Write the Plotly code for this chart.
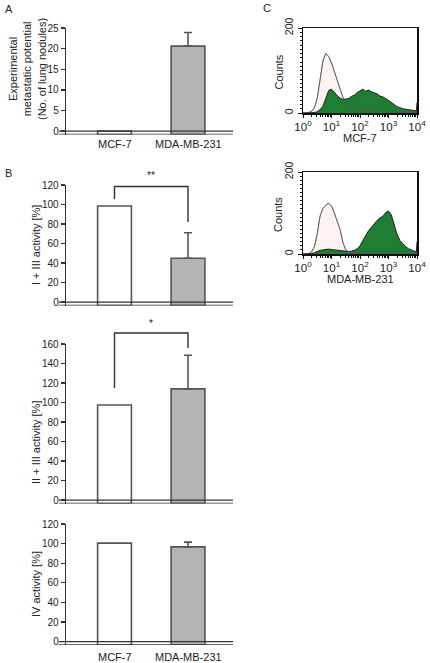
import plotly.graph_objects as go

W, H = 430, 663
FONT = "Arial, Liberation Sans, sans-serif"

# ---------------- data ----------------
cell_lines = ["MCF-7", "MDA-MB-231"]
lung_nodules = [0, 20.6]
lung_nodules_err = [0, 3.3]
act_I_III = [98.5, 45.0]
act_I_III_err = [0, 26.0]
act_II_III = [97.5, 114.0]
act_II_III_err = [0, 34.5]
act_IV = [100.5, 96.7]
act_IV_err = [0, 4.8]

# flow cytometry histograms (log10 fluorescence channel -> counts)
log_channel = [0.0, 0.1, 0.2, 0.3, 0.4, 0.5, 0.6, 0.7, 0.8, 0.9,
               1.0, 1.1, 1.2, 1.3, 1.4, 1.5, 1.6, 1.7, 1.8, 1.9,
               2.0, 2.1, 2.2, 2.3, 2.4, 2.5, 2.6, 2.7, 2.8, 2.9,
               3.0, 3.1, 3.2, 3.3, 3.4, 3.5, 3.6, 3.7, 3.8, 3.9, 3.98, 4.0]
mcf_control = [0, 0, 1, 4, 12, 35, 85, 123, 140, 133,
               118, 96, 74, 57, 37, 24, 17, 13, 11, 9,
               7, 6, 6, 5, 4, 4, 3, 3, 3, 2,
               2, 2, 2, 1, 1, 1, 1, 1, 1, 1, 1, 1]
mcf_stained = [0, 0, 0, 0, 1, 3, 8, 16, 35, 53,
               56, 48, 41, 35, 32, 33, 34, 39, 42, 48,
               53, 56, 51, 54, 50, 48, 45, 40, 38, 34,
               30, 25, 20, 15, 12, 10, 9, 8, 7, 6, 5, 25]
mda_control = [0, 0, 1, 5, 18, 50, 93, 111, 119, 124,
               117, 100, 82, 60, 28, 10, 5, 4, 3, 3,
               2, 2, 2, 2, 1, 1, 1, 1, 1, 1,
               1, 1, 1, 1, 1, 1, 1, 1, 1, 1, 1, 1]
mda_stained = [0, 0, 0, 1, 3, 6, 9, 10, 11, 12,
               11, 10, 9, 8, 7, 6, 6, 7, 9, 13,
               20, 33, 45, 57, 65, 74, 82, 88, 92, 101,
               105, 95, 72, 48, 33, 25, 18, 13, 9, 7, 6, 30]
significance = ["**", "*"]


def px(x):
    return x / W


def py(y):
    return 1 - y / H


def note(text, x, y, size=11, angle=0, xanchor="center", yanchor="middle", **kw):
    d = dict(text=text, x=px(x), y=py(y), xref="paper", yref="paper",
             xanchor=xanchor, yanchor=yanchor, showarrow=False, textangle=angle,
             font=dict(family=FONT, size=size, color="#222"))
    d.update(kw)
    return d


fig = go.Figure()
AX = "#333333"
BAR_LINE = "#555555"
BAR_FILL = ["#ffffff", "#b4b4b4"]
annotations = []
shapes = []

# bar panels: (values, errors, ymax, dtick, top_px, bottom_px, title, title_y, label_y)
panels = [
    (lung_nodules, lung_nodules_err, 25, 5, 28, 134.5, None, None, 144),
    (act_I_III, act_I_III_err, 120, 20, 185, 305.5, "I + III activity [%]", 245, None),
    (act_II_III, act_II_III_err, 160, 20, 344, 503.5, "II + III activity [%]", 443, None),
    (act_IV, act_IV_err, 120, 20, 524, 645, "IV activity [%]", 584, 657),
]
XL, XR = 66, 233
c0, c1 = 114.5, 188
unit = c1 - c0
xrange = [0 - (c0 - XL) / unit, 1 + (XR - c1) / unit]

for i, (vals, errs, ymax, dt, top, bot, title, ty, laby) in enumerate(panels):
    n = i + 1
    xa = "x" if n == 1 else f"x{n}"
    ya = "y" if n == 1 else f"y{n}"
    zero_px = bot - 3.4
    ppu = (zero_px - top) / ymax
    ymin = -(bot - zero_px) / ppu
    for j, (v, e) in enumerate(zip(vals, errs)):
        tr = go.Bar(x=[j], y=[v - ymin], base=[ymin], width=0.46,
                    marker=dict(color=BAR_FILL[j], line=dict(color=BAR_LINE, width=1.6)),
                    xaxis=xa, yaxis=ya, showlegend=False, hoverinfo="skip")
        if e > 0:
            tr.error_y = dict(type="data", symmetric=False, array=[e], arrayminus=[0],
                              color=BAR_LINE, thickness=1.6, width=4)
        fig.add_trace(tr)
    lay_x = dict(domain=[px(XL), px(XR)], range=xrange, showgrid=False, zeroline=False,
                 showline=False, showticklabels=False, ticks="", anchor=ya,
                 automargin=False, fixedrange=True)
    lay_y = dict(domain=[py(bot), py(top)], range=[ymin, ymax], showgrid=False, zeroline=False,
                 showline=True, linecolor=AX, linewidth=1.3, ticks="outside", ticklen=4,
                 tickcolor=AX, tickwidth=1.3, tickvals=list(range(0, ymax + 1, dt)),
                 tickfont=dict(family=FONT, size=10, color="#222"), anchor=xa,
                 automargin=False, fixedrange=True)
    fig.update_layout(**{("xaxis" if n == 1 else f"xaxis{n}"): lay_x,
                         ("yaxis" if n == 1 else f"yaxis{n}"): lay_y})
    for yy in (0, ymin):
        shapes.append(dict(type="line", xref="paper", yref=ya, x0=px(59), x1=px(XR),
                           y0=yy, y1=yy, line=dict(color=AX, width=1.3)))
    if title:
        annotations.append(note(title, 36, ty, size=11, angle=-90))
    if laby:
        for j, lab in enumerate(cell_lines):
            annotations.append(note(lab, [c0, c1][j], laby, size=11))

# panel A y title
annotations.append(note("Experimental<br>metastatic potential<br>(No. of lung nodules)",
                        28, 69, size=11, angle=-90))

# significance brackets (pixel geometry: left foot, top, right foot, star y)
for star, (yl, ytop, yr, ys) in zip(significance, [(199, 186.5, 222, 176),
                                                   (388, 333, 348, 323)]):
    shapes.append(dict(type="path", xref="paper", yref="paper",
                       path=(f"M {px(c0)} {py(yl)} L {px(c0)} {py(ytop)} "
                             f"L {px(c1)} {py(ytop)} L {px(c1)} {py(yr)}"),
                       line=dict(color=AX, width=1.4)))
    annotations.append(note(star, (c0 + c1) / 2, ys, size=10))

# panel labels
for t, x, y in [("A", 3, 9), ("B", 3, 173), ("C", 261, 8)]:
    annotations.append(note(t, x, y, size=11, xanchor="left"))

# histograms
hx = [10 ** v for v in log_channel]
HL, HR = 303, 417
for n, (ctrl, stain, top, bot, lab) in zip(
        (5, 6),
        [(mcf_control, mcf_stained, 28, 113, "MCF-7"),
         (mda_control, mda_stained, 172, 254, "MDA-MB-231")]):
    xa, ya = f"x{n}", f"y{n}"
    fig.add_trace(go.Scatter(x=hx, y=ctrl, mode="lines", fill="tozeroy", fillcolor="#fdf3f1",
                             line=dict(color="#8a8a8a", width=0.9), xaxis=xa, yaxis=ya,
                             showlegend=False, hoverinfo="skip"))
    fig.add_trace(go.Scatter(x=hx, y=stain, mode="lines", fill="tozeroy", fillcolor="#1f7d34",
                             line=dict(color="#111111", width=0.9), xaxis=xa, yaxis=ya,
                             showlegend=False, hoverinfo="skip"))
    fig.add_trace(go.Scatter(x=hx, y=ctrl, mode="lines",
                             line=dict(color="#555555", width=0.8), xaxis=xa, yaxis=ya,
                             showlegend=False, hoverinfo="skip"))
    fig.update_layout(**{
        f"xaxis{n}": dict(domain=[px(HL), px(HR)], type="log", range=[0, 4], anchor=ya,
                          showgrid=False, zeroline=False, showline=True, mirror=True,
                          linecolor="#111", linewidth=1.5, ticks="outside", ticklen=3,
                          tickcolor="#111", tickvals=[1, 10, 100, 1000, 10000],
                          ticktext=["10<sup>0</sup>", "10<sup>1</sup>", "10<sup>2</sup>",
                                    "10<sup>3</sup>", "10<sup>4</sup>"],
                          tickfont=dict(family=FONT, size=11.5, color="#222"),
                          automargin=False, fixedrange=True,
                          minor=dict(ticks="outside", ticklen=2, tickcolor="#111", dtick="D1")),
        f"yaxis{n}": dict(domain=[py(bot), py(top)], range=[0, 200], anchor=xa,
                          showgrid=False, zeroline=False, showline=True, mirror=True,
                          linecolor="#111", linewidth=1.5, ticks="outside", ticklen=4,
                          tickcolor="#111", tickvals=[0, 200], tickangle=-90,
                          tickfont=dict(family=FONT, size=10.5, color="#222"),
                          automargin=False, fixedrange=True,
                          minor=dict(ticks="outside", ticklen=2, tickcolor="#111", dtick=10)),
    })
    annotations.append(note(lab, (HL + HR) / 2, bot + 25, size=11))
    annotations.append(note("Counts", 278, (top + bot) / 2 + 2, size=11, angle=-90))

fig.update_layout(width=W, height=H, margin=dict(l=0, r=0, t=0, b=0, autoexpand=False),
                  paper_bgcolor="white", plot_bgcolor="rgba(0,0,0,0)",
                  barmode="overlay", showlegend=False,
                  annotations=annotations, shapes=shapes,
                  font=dict(family=FONT))
fig.write_html("out.html", config={"displayModeBar": False, "staticPlot": True},
               post_script="document.body.style.margin='0';document.body.style.overflow='hidden';")
